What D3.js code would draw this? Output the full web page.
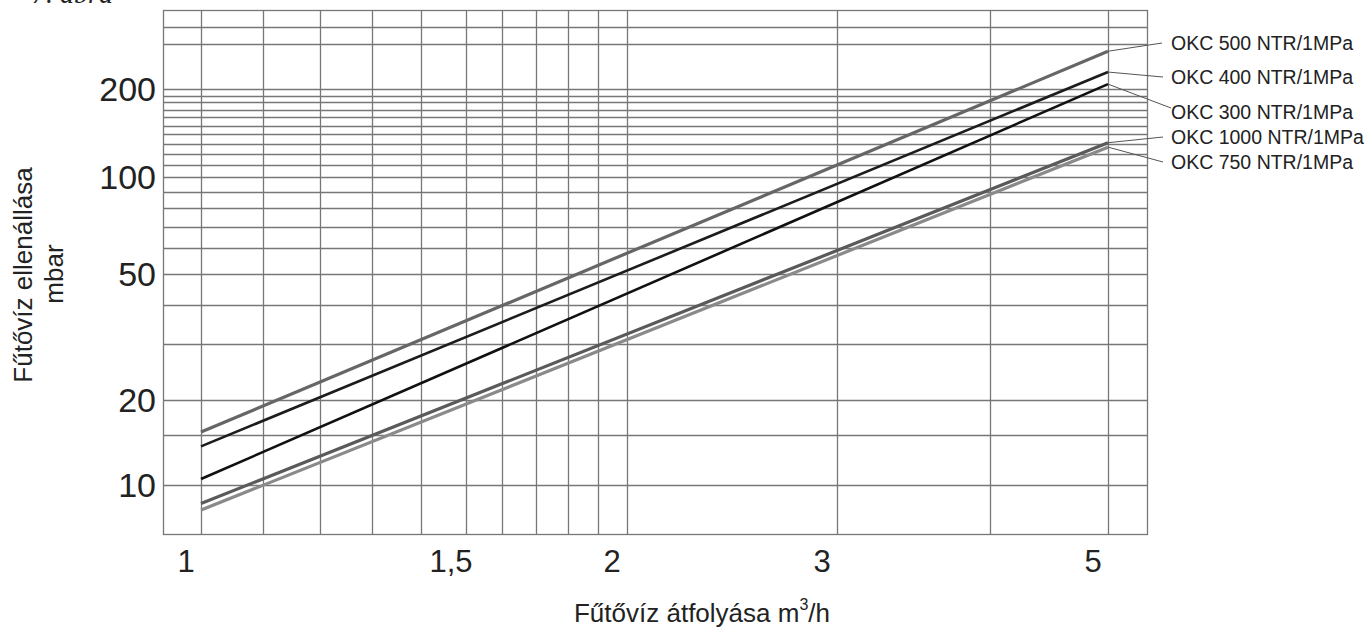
<!DOCTYPE html>
<html>
<head>
<meta charset="utf-8">
<script src="https://d3js.org/d3.v7.min.js"></script>
<style>
	body { margin: 0; background: #fff; }
	svg { display: block; font-family: 'Liberation Sans', Arial, sans-serif; }
</style>
</head>
<body>
<div id="chart"></div>
<script>
// flow (m3/h) at the two ends of every curve
const flow = [1, 5];

// pressure drop (mbar) read at flow = 1 and flow = 5
const okc500 = [15.4, 281];
const okc400 = [13.7, 233];
const okc300 = [10.5, 209];
const okc1000 = [8.6, 131];
const okc750 = [8.15, 126.5];

const names = ['OKC 500 NTR/1MPa', 'OKC 400 NTR/1MPa', 'OKC 300 NTR/1MPa', 'OKC 1000 NTR/1MPa', 'OKC 750 NTR/1MPa'];

const xTicks = [1, 1.5, 2, 3, 5];
const xTickLabels = ['1', '1,5', '2', '3', '5'];
const xGrid = [1, 1.1, 1.2, 1.3, 1.4, 1.5, 1.6, 1.7, 1.8, 1.9, 2, 3, 4, 5];

const yTicks = [10, 20, 50, 100, 200];
const yGrid = [10, 15, 20, 30, 40, 50, 60, 70, 80, 90, 100, 110, 120, 130, 140, 150, 160, 170, 180, 190, 200, 300, 350];

const width = 1371;
const height = 627;
const frame = { left: 163, right: 1147, top: 10, bottom: 534 };

// the scanned nomogram is not a perfectly even log grid, so the log scales
// are calibrated piecewise on the printed ticks
const x = d3.scaleLog()
	.domain([1, 1.5, 2, 3, 5])
	.range([201, 466, 627, 837, 1108]);

const y = d3.scaleLog()
	.domain([10, 20, 50, 100, 200, 300])
	.range([485, 400, 274, 177, 89, 44]);

const series = [
	{ name: names[0], values: okc500, color: '#666', width: 3.2 },
	{ name: names[1], values: okc400, color: '#1c1c1c', width: 2.6 },
	{ name: names[2], values: okc300, color: '#111', width: 2.6 },
	{ name: names[4], values: okc750, color: '#8a8a8a', width: 3.2 },
	{ name: names[3], values: okc1000, color: '#5a5a5a', width: 3.2 }
];

// legend labels and where their leader lines end
const legendX = 1171;
const legendY = [43, 77, 112, 137, 162];
const leaderEnd = [[1162, 43], [1163, 77], [1171, 108], [1163, 137], [1163, 162]];

const svg = d3.select('#chart')
	.append('svg')
	.attr('width', width)
	.attr('height', height);

// caption, cut by the top edge of the scan
svg.append('text')
	.attr('x', 32)
	.attr('y', 3)
	.style('font-family', "'Liberation Serif', 'Times New Roman', serif")
	.style('font-style', 'italic')
	.style('font-size', '28px')
	.attr('fill', '#222')
	.text('7. ábra');

const grid = svg.append('g')
	.attr('stroke', '#777')
	.attr('stroke-width', 1.3)
	.attr('fill', 'none');

grid.selectAll('line.h')
	.data(yGrid)
	.join('line')
	.attr('class', 'h')
	.attr('x1', frame.left)
	.attr('x2', frame.right)
	.attr('y1', d => Math.round(y(d)) + 0.5)
	.attr('y2', d => Math.round(y(d)) + 0.5);

grid.selectAll('line.v')
	.data(xGrid)
	.join('line')
	.attr('class', 'v')
	.attr('x1', d => Math.round(x(d)) + 0.5)
	.attr('x2', d => Math.round(x(d)) + 0.5)
	.attr('y1', frame.top)
	.attr('y2', frame.bottom);

grid.append('rect')
	.attr('x', frame.left + 0.5)
	.attr('y', frame.top + 0.5)
	.attr('width', frame.right - frame.left)
	.attr('height', frame.bottom - frame.top);

// y tick labels
svg.append('g')
	.selectAll('text')
	.data(yTicks)
	.join('text')
	.attr('x', 156)
	.attr('y', d => y(d) + 12)
	.attr('text-anchor', 'end')
	.style('font-size', '34px')
	.attr('fill', '#222')
	.text(d => d);

// x tick labels
svg.append('g')
	.selectAll('text')
	.data(xTicks)
	.join('text')
	.attr('x', d => x(d) - 15)
	.attr('y', 572)
	.attr('text-anchor', 'middle')
	.style('font-size', '31px')
	.attr('fill', '#222')
	.text((d, i) => xTickLabels[i]);

// axis titles
const xTitle = svg.append('text')
	.attr('x', 702)
	.attr('y', 622)
	.attr('text-anchor', 'middle')
	.style('font-size', '26px')
	.attr('fill', '#222');

xTitle.append('tspan').text('Fűtővíz átfolyása m');
xTitle.append('tspan')
	.attr('dy', -12)
	.style('font-size', '16px')
	.text('3');
xTitle.append('tspan')
	.attr('dy', 12)
	.text('/h');

svg.append('text')
	.attr('transform', 'translate(32,275) rotate(-90)')
	.attr('text-anchor', 'middle')
	.style('font-size', '26px')
	.attr('fill', '#222')
	.text('Fűtővíz ellenállása');

svg.append('text')
	.attr('transform', 'translate(63,274) rotate(-90)')
	.attr('text-anchor', 'middle')
	.style('font-size', '26px')
	.attr('fill', '#222')
	.text('mbar');

// curves
const line = d3.line()
	.x(d => x(d[0]))
	.y(d => y(d[1]));

svg.append('g')
	.attr('fill', 'none')
	.selectAll('path')
	.data(series)
	.join('path')
	.attr('stroke', d => d.color)
	.attr('stroke-width', d => d.width)
	.attr('d', d => line(flow.map((f, i) => [f, d.values[i]])));

// legend with leader lines
const ends = [okc500, okc400, okc300, okc1000, okc750];

const legend = svg.append('g')
	.selectAll('g')
	.data(names)
	.join('g');

legend.append('line')
	.attr('x1', x(flow[1]))
	.attr('y1', (d, i) => y(ends[i][1]))
	.attr('x2', (d, i) => leaderEnd[i][0])
	.attr('y2', (d, i) => leaderEnd[i][1])
	.attr('stroke', '#555')
	.attr('stroke-width', 1);

legend.append('text')
	.attr('x', legendX)
	.attr('y', (d, i) => legendY[i] + 7)
	.style('font-size', '19.5px')
	.attr('fill', '#222')
	.text(d => d);
</script>
</body>
</html>
